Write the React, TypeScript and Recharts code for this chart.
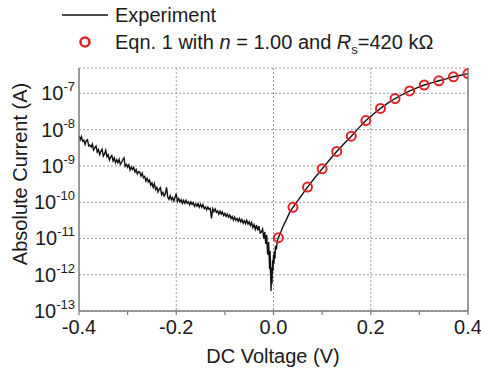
import React from 'react';
import { ComposedChart, Line, Scatter, XAxis, YAxis, CartesianGrid } from 'recharts';

// measured I-V sweep: voltage (V)
const expV = [
  -0.4, -0.3975, -0.395, -0.3925, -0.39, -0.3875, -0.385, -0.3825, -0.38, -0.3775,
  -0.375, -0.3725, -0.37, -0.3675, -0.365, -0.3625, -0.36, -0.3575, -0.355, -0.3525,
  -0.35, -0.3475, -0.345, -0.3425, -0.34, -0.3375, -0.335, -0.3325, -0.33, -0.3275,
  -0.325, -0.3225, -0.32, -0.3175, -0.315, -0.3125, -0.31, -0.3075, -0.305, -0.3025,
  -0.3, -0.2975, -0.295, -0.2925, -0.29, -0.2875, -0.285, -0.2825, -0.28, -0.2775,
  -0.275, -0.2725, -0.27, -0.2675, -0.265, -0.2625, -0.26, -0.2575, -0.255, -0.2525,
  -0.25, -0.2475, -0.245, -0.2425, -0.24, -0.2375, -0.235, -0.2325, -0.23, -0.2275,
  -0.225, -0.2225, -0.22, -0.2175, -0.215, -0.2125, -0.21, -0.2075, -0.205, -0.2025,
  -0.2, -0.1975, -0.195, -0.1925, -0.19, -0.1875, -0.185, -0.1825, -0.18, -0.1775,
  -0.175, -0.1725, -0.17, -0.1675, -0.165, -0.1625, -0.16, -0.1575, -0.155, -0.1525,
  -0.15, -0.1475, -0.145, -0.1425, -0.14, -0.1375, -0.135, -0.1325, -0.13, -0.1275,
  -0.125, -0.1225, -0.12, -0.1175, -0.115, -0.1125, -0.11, -0.1075, -0.105, -0.1025,
  -0.1, -0.0975, -0.095, -0.0925, -0.09, -0.0875, -0.085, -0.0825, -0.08, -0.0775,
  -0.075, -0.0725, -0.07, -0.0675, -0.065, -0.0625, -0.06, -0.0575, -0.055, -0.0525,
  -0.05, -0.0475, -0.045, -0.0425, -0.04, -0.0375, -0.035, -0.0325, -0.03, -0.0275,
  -0.025, -0.0225, -0.02, -0.018, -0.016, -0.014, -0.012, -0.01, -0.008, -0.007,
  -0.006, -0.005, -0.004, -0.003, -0.002, -0.001, 0, 0.001, 0.002, 0.003,
  0.004, 0.006, 0.008, 0.01, 0.015, 0.02, 0.025, 0.03, 0.035, 0.04,
  0.05, 0.06, 0.07, 0.085, 0.1, 0.115, 0.13, 0.145, 0.16, 0.175,
  0.19, 0.205, 0.22, 0.235, 0.25, 0.265, 0.28, 0.295, 0.31, 0.325,
  0.34, 0.355, 0.37, 0.385, 0.4,
];
// measured I-V sweep: absolute current (A)
const expI = [
  6.76e-9, 5.25e-9, 6.46e-9, 4.79e-9, 5.13e-9, 3.89e-9, 5.01e-9, 5.25e-9, 3.55e-9, 3.72e-9,
  3.31e-9, 3.98e-9, 2.75e-9, 3.16e-9, 3.55e-9, 2.4e-9, 2.82e-9, 2.04e-9, 2.51e-9, 2.88e-9,
  1.86e-9, 2.14e-9, 2.69e-9, 1.78e-9, 2.04e-9, 1.45e-9, 1.74e-9, 1.95e-9, 1.38e-9, 1.66e-9,
  1.23e-9, 1.48e-9, 1.23e-9, 1.51e-9, 1.1e-9, 1.23e-9, 1.48e-9, 1.66e-9, 9.77e-10, 1.1e-9,
  9.12e-10, 1.07e-9, 7.76e-10, 9.33e-10, 7.94e-10, 9.12e-10, 6.76e-10, 7.94e-10, 6.03e-10, 6.92e-10,
  6.76e-10, 5.25e-10, 6.31e-10, 4.68e-10, 5.13e-10, 3.8e-10, 4.57e-10, 3.63e-10, 4.07e-10, 2.95e-10,
  3.39e-10, 2.57e-10, 3.24e-10, 2.24e-10, 2.57e-10, 1.91e-10, 2.29e-10, 2.51e-10, 1.62e-10, 1.86e-10,
  1.48e-10, 1.7e-10, 2.57e-10, 1.38e-10, 1.2e-10, 1.51e-10, 1.17e-10, 1.35e-10, 1.07e-10, 1.35e-10,
  1.7e-10, 1.05e-10, 1.26e-10, 1.02e-10, 1.17e-10, 9.33e-11, 1.12e-10, 9.33e-11, 1.12e-10, 9.33e-11,
  1.02e-10, 8.51e-11, 1.02e-10, 8.71e-11, 9.77e-11, 7.76e-11, 8.91e-11, 7.76e-11, 9.12e-11, 7.24e-11,
  8.71e-11, 7.24e-11, 8.51e-11, 6.61e-11, 7.41e-11, 6.17e-11, 7.41e-11, 6.31e-11, 6.76e-11, 3.55e-11,
  6.61e-11, 5.5e-11, 6.46e-11, 5.25e-11, 5.75e-11, 4.68e-11, 5.62e-11, 4.68e-11, 5.37e-11, 4.27e-11,
  4.9e-11, 4.07e-11, 4.68e-11, 3.89e-11, 4.47e-11, 3.55e-11, 4.07e-11, 3.24e-11, 3.89e-11, 3.16e-11,
  3.55e-11, 2.95e-11, 3.55e-11, 2.88e-11, 3.31e-11, 2.63e-11, 3.09e-11, 2.57e-11, 3.16e-11, 2.51e-11,
  2.88e-11, 2.29e-11, 2.75e-11, 2.0e-11, 2.4e-11, 1.78e-11, 2.34e-11, 1.66e-11, 2.19e-11, 1.41e-11,
  1.5e-11, 1.82e-11, 1.0e-11, 1.51e-11, 7.08e-12, 1.26e-11, 3.55e-12, 7.94e-12, 1.41e-12, 4.47e-12,
  1.0e-12, 3.55e-13, 1.58e-12, 5.62e-13, 2.51e-12, 1.26e-12, 3.55e-12, 2.0e-12, 4.47e-12, 2.82e-12,
  6.31e-12, 5.01e-12, 8.91e-12, 1.05e-11, 1.5e-11, 2.2e-11, 3.0e-11, 4.2e-11, 5.8e-11, 7.2e-11,
  1.1e-10, 1.7e-10, 2.6e-10, 4.7e-10, 8.3e-10, 1.45e-9, 2.5e-9, 4.1e-9, 6.6e-9, 1.1e-8,
  1.78e-8, 2.66e-8, 3.85e-8, 5.4e-8, 7.2e-8, 9.3e-8, 1.17e-7, 1.41e-7, 1.7e-7, 1.95e-7,
  2.22e-7, 2.5e-7, 2.86e-7, 3.16e-7, 3.5e-7,
];

// Eqn. 1 fit points
const fitV = [0.01, 0.04, 0.07, 0.1, 0.13, 0.16, 0.19, 0.22, 0.25, 0.28, 0.31, 0.34, 0.37, 0.4];
const fitI = [1.05e-11, 7.2e-11, 2.6e-10, 8.3e-10, 2.5e-9, 6.6e-9, 1.78e-8, 3.85e-8, 7.2e-8, 1.17e-7, 1.7e-7, 2.22e-7, 2.86e-7, 3.5e-7];

const xTicks = [-0.4, -0.3, -0.2, -0.1, 0, 0.1, 0.2, 0.3, 0.4];
const xLabels = ['-0.4', '', '-0.2', '', '0.0', '', '0.2', '', '0.4'];
const yTicks = [1e-13, 1e-12, 1e-11, 1e-10, 1e-9, 1e-8, 1e-7];
const yExp = ['-13', '-12', '-11', '-10', '-9', '-8', '-7'];

const expData = expV.map((v, k) => ({ v, i: expI[k] }));
const fitData = fitV.map((v, k) => ({ v, i: fitI[k] }));

// log minor tick positions
const minorTicks: number[] = [];
for (let d = -13; d <= -7; d++) {
  for (let m = 1; m <= 9; m++) {
    const t = m * Math.pow(10, d);
    if (t <= 5e-7) minorTicks.push(t);
  }
}

const FONT = '"Liberation Sans", Arial, Helvetica, sans-serif';
const TXT = '#1a1a1a';
const AX = '#7a7a7a';
const RED = '#e2232a';
const Y_DOMAIN: [number, number] = [1e-13, 5e-7];

const PowTick = (props: any) => {
  const { x, y, payload } = props;
  const idx = yTicks.findIndex(t => Math.abs(Math.log10(t) - Math.log10(payload.value)) < 0.01);
  if (idx < 0) return null;
  return (
    <text x={x} y={y + 7} textAnchor="end" fontSize={20} fill={TXT} fontFamily={FONT}>
      10<tspan dy={-9} fontSize={13}>{yExp[idx]}</tspan>
    </text>
  );
};

const Ring = (props: any) => (
  <circle cx={props.cx} cy={props.cy} r={4.5} fill="none" stroke={RED} strokeWidth={2} />
);

export default function App() {
  return (
    <div style={{ position: 'absolute', left: 0, top: 0, width: 481, height: 368, background: '#fff', fontFamily: FONT }}>
      <ComposedChart width={481} height={368} margin={{ top: 68, right: 13, left: 0, bottom: 0 }}>
        <CartesianGrid stroke="#9a9a9a" strokeDasharray="2 2" verticalValues={[-0.2, 0, 0.2]} />
        <XAxis
          dataKey="v" type="number" domain={[-0.4, 0.4]} allowDataOverflow
          ticks={xTicks} tickFormatter={(v: number) => xLabels[xTicks.findIndex(t => Math.abs(t - v) < 1e-6)] ?? ''}
          height={57} tickSize={4} tickMargin={5}
          axisLine={{ stroke: AX, strokeWidth: 1.5 }} tickLine={{ stroke: AX, strokeWidth: 1.2 }}
          tick={{ fontSize: 20, fill: TXT, fontFamily: FONT }}
        />
        <XAxis
          xAxisId="top" orientation="top" type="number" domain={[-0.4, 0.4]} allowDataOverflow
          ticks={xTicks} tick={false} height={0} tickSize={3}
          axisLine={{ stroke: AX, strokeWidth: 1.5 }} tickLine={{ stroke: AX, strokeWidth: 1.2 }}
        />
        <YAxis
          dataKey="i" scale="log" domain={Y_DOMAIN} allowDataOverflow
          ticks={yTicks} tick={<PowTick />} width={79} tickSize={0} tickMargin={4} tickLine={false}
          axisLine={{ stroke: AX, strokeWidth: 1.5 }}
        />
        <YAxis
          yAxisId="leftMinor" scale="log" domain={Y_DOMAIN} allowDataOverflow mirror
          ticks={minorTicks} tick={false} tickSize={4} axisLine={false}
          tickLine={{ stroke: AX, strokeWidth: 1 }}
        />
        <YAxis
          yAxisId="right" orientation="right" scale="log" domain={Y_DOMAIN} allowDataOverflow mirror
          ticks={minorTicks} tick={false} tickSize={4}
          axisLine={{ stroke: AX, strokeWidth: 1.5 }} tickLine={{ stroke: AX, strokeWidth: 1 }}
        />
        <Line
          data={expData} dataKey="i" type="linear" stroke="#111" strokeWidth={1.4}
          dot={false} activeDot={false} isAnimationActive={false}
        />
        <Scatter data={fitData} dataKey="i" shape={<Ring />} isAnimationActive={false} />
      </ComposedChart>

      <svg width={481} height={368} style={{ position: 'absolute', left: 0, top: 0, pointerEvents: 'none' }}>
        {/* legend */}
        <line x1={62} x2={108} y1={15} y2={15} stroke="#111" strokeWidth={1.5} />
        <text x={115} y={22} fontSize={20} fill={TXT} fontFamily={FONT}>Experiment</text>
        <circle cx={85} cy={42} r={4.5} fill="none" stroke={RED} strokeWidth={2.6} />
        <text x={115} y={49} fontSize={20} fill={TXT} fontFamily={FONT}>
          Eqn. 1 with <tspan fontStyle="italic">n</tspan> = 1.00 and <tspan fontStyle="italic">R</tspan>
          <tspan fontSize={13} dy={5}>s</tspan>
          <tspan dy={-5}>=420 kΩ</tspan>
        </text>
        {/* axis titles */}
        <text x={273} y={363} textAnchor="middle" fontSize={20} fill={TXT} fontFamily={FONT}>DC Voltage (V)</text>
        <text x={27} y={174} textAnchor="middle" fontSize={20} fill={TXT} fontFamily={FONT} transform="rotate(-90 27 174)">
          Absolute Current (A)
        </text>
      </svg>
    </div>
  );
}
